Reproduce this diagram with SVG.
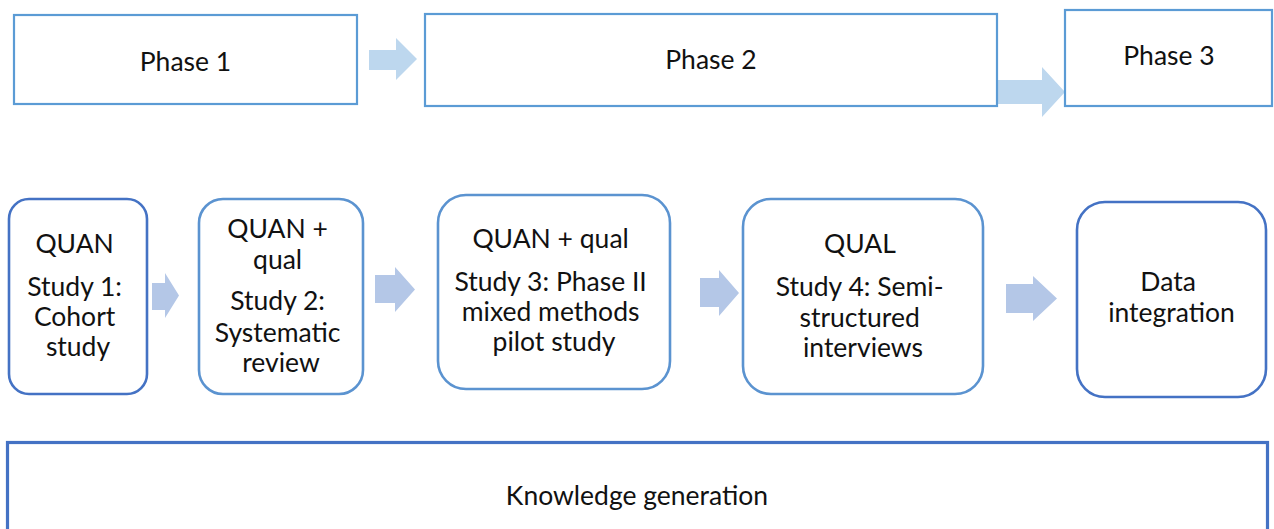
<svg xmlns="http://www.w3.org/2000/svg" width="1274" height="529" viewBox="0 0 1274 529">
  <style>
    .lbl { font-family: Lato, "Open Sans", "Liberation Sans", sans-serif; font-size: 26.5px; fill: #111111; text-anchor: middle; }
    .phase { fill: #ffffff; stroke: #5B9BD5; stroke-width: 2.2; }
    .study { fill: #ffffff; stroke: #5B93D0; stroke-width: 2.6; }
    .study-dark { fill: #ffffff; stroke: #4472C4; stroke-width: 2.6; }
    .knowledge { fill: #ffffff; stroke: #4472C4; stroke-width: 3.2; }
    .arrow-top { fill: #BDD7EE; }
    .arrow-row { fill: #B4C7E7; }
  </style>

  <!-- block arrows between phases and between studies -->
  <g id="connectors">
    <polygon class="arrow-top" points="369,50 396,50 396,38 417,59 396,80 396,70 369,70"/>
    <polygon class="arrow-top" points="997,80 1042,80 1042,67 1065,92 1042,117 1042,104 997,104"/>
    <polygon class="arrow-row" points="152,283 165,283 165,273 179,295.5 165,318 165,310 152,310"/>
    <polygon class="arrow-row" points="375,275 395,275 395,267 415,289.5 395,312 395,303 375,303"/>
    <polygon class="arrow-row" points="700,278 719,278 719,270 739,293 719,316 719,307 700,307"/>
    <polygon class="arrow-row" points="1006,284 1033,284 1033,276 1057,298.5 1033,321 1033,313 1006,313"/>
  </g>

  <!-- phase headers -->
  <g id="phase1">
    <rect class="phase" x="14" y="15" width="343" height="89"/>
    <text class="lbl" x="185.5" y="71">Phase 1</text>
  </g>
  <g id="phase2">
    <rect class="phase" x="425" y="14" width="572" height="92"/>
    <text class="lbl" x="711" y="69">Phase 2</text>
  </g>
  <g id="phase3">
    <rect class="phase" x="1065" y="10" width="207" height="96"/>
    <text class="lbl" x="1169" y="65">Phase 3</text>
  </g>

  <!-- studies -->
  <g id="study1">
    <rect class="study-dark" x="9" y="199" width="138" height="195" rx="20"/>
    <text class="lbl" x="78">
      <tspan x="78" y="253">QUAN</tspan>
      <tspan x="78" y="296">Study 1:</tspan>
      <tspan x="78" y="326">Cohort</tspan>
      <tspan x="78" y="356">study</tspan>
    </text>
  </g>
  <g id="study2">
    <rect class="study" x="199" y="199" width="164" height="195" rx="24"/>
    <text class="lbl" x="281">
      <tspan x="281" y="238">QUAN +</tspan>
      <tspan x="281" y="269">qual</tspan>
      <tspan x="281" y="310">Study 2:</tspan>
      <tspan x="281" y="342">Systematic</tspan>
      <tspan x="281" y="372">review</tspan>
    </text>
  </g>
  <g id="study3">
    <rect class="study" x="438" y="195" width="232" height="194" rx="28"/>
    <text class="lbl" x="554">
      <tspan x="554" y="248">QUAN + qual</tspan>
      <tspan x="554" y="291">Study 3: Phase II</tspan>
      <tspan x="554" y="321">mixed methods</tspan>
      <tspan x="554" y="351">pilot study</tspan>
    </text>
  </g>
  <g id="study4">
    <rect class="study" x="743" y="199" width="240" height="195" rx="28"/>
    <text class="lbl" x="863">
      <tspan x="863" y="253">QUAL</tspan>
      <tspan x="863" y="296">Study 4: Semi-</tspan>
      <tspan x="863" y="327">structured</tspan>
      <tspan x="863" y="357">interviews</tspan>
    </text>
  </g>
  <g id="integration">
    <rect class="study-dark" x="1077" y="202" width="189" height="195" rx="28"/>
    <text class="lbl" x="1171.5">
      <tspan x="1171.5" y="291">Data</tspan>
      <tspan x="1171.5" y="322">integration</tspan>
    </text>
  </g>

  <!-- outcome band, running past the lower edge -->
  <g id="knowledge">
    <rect class="knowledge" x="7.5" y="442.5" width="1260" height="110"/>
    <text class="lbl" x="637" y="505">Knowledge generation</text>
  </g>
</svg>
